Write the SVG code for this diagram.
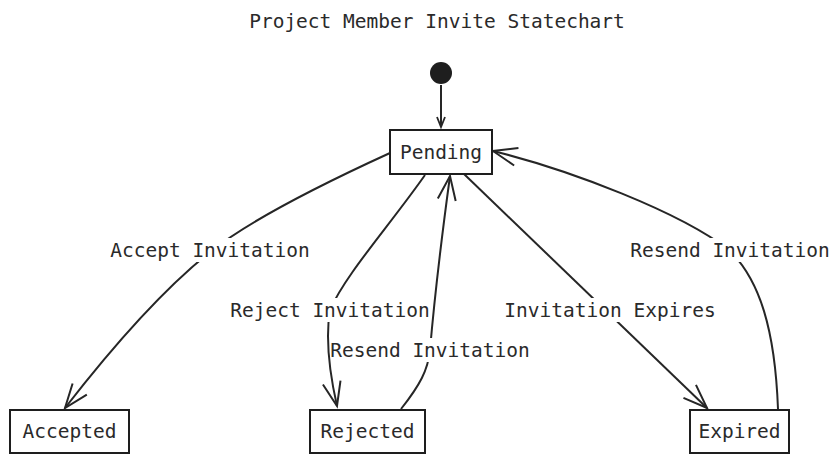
<svg xmlns="http://www.w3.org/2000/svg" width="839" height="464" viewBox="0 0 839 464">
<style>
text{font-family:"DejaVu Sans Mono","Liberation Mono",monospace;font-size:19.5px;fill:#2a2a2a;text-anchor:middle}
.box{fill:#fff;stroke:#1e1e1e;stroke-width:2}
.edge{fill:none;stroke:#262626;stroke-width:2}
.lbl{fill:#fff}
</style>
<defs>
<marker id="arr" markerUnits="userSpaceOnUse" markerWidth="30" markerHeight="24" refX="24" refY="9" orient="auto" overflow="visible">
<path d="M0,0 L24,9 L0,18" fill="none" stroke="#262626" stroke-width="2"/>
</marker>
<marker id="arrs" markerUnits="userSpaceOnUse" markerWidth="14" markerHeight="12" refX="10" refY="4" orient="auto" overflow="visible">
<path d="M0,0 L10,4 L0,8" fill="none" stroke="#262626" stroke-width="1.8"/>
</marker>
</defs>
<text x="437" y="28">Project Member Invite Statechart</text>
<g id="connectors">
<path class="edge" d="M441,85 L441,127" marker-end="url(#arrs)"/>
<path id="e-accept" class="edge" d="M390,153 C320,185 250,220 210,252 C160,292 110,350 65,408" marker-end="url(#arr)"/>
<path id="e-reject" class="edge" d="M425,175 C390,225 345,275 330,310 C325,340 330,375 337,406" marker-end="url(#arr)"/>
<path id="e-resend1" class="edge" d="M401,409 C420,385 428,370 430,350 C436,280 444,220 450,176" marker-end="url(#arr)"/>
<path id="e-expire" class="edge" d="M464,174 L707,408" marker-end="url(#arr)"/>
<path id="e-resend2" class="edge" d="M778,409 C775,330 760,280 729,250 C680,212 570,170 493,151" marker-end="url(#arr)"/>
<g id="labels">
<rect class="lbl" x="110" y="238" width="200" height="24"/>
<text x="210" y="257">Accept Invitation</text>
<rect class="lbl" x="230" y="298" width="200" height="24"/>
<text x="330" y="317">Reject Invitation</text>
<rect class="lbl" x="331" y="338" width="198" height="24"/>
<text x="430" y="357">Resend Invitation</text>
<rect class="lbl" x="504" y="298" width="212" height="24"/>
<text x="610" y="317">Invitation Expires</text>
<rect class="lbl" x="630" y="238" width="200" height="24"/>
<text x="730" y="257">Resend Invitation</text>
</g>
</g>
<g id="start"><circle cx="441" cy="73" r="11" fill="#1e1e1e"/></g>
<g id="pending"><rect class="box" x="390" y="130" width="102" height="44"/><text x="441" y="159">Pending</text></g>
<g id="accepted"><rect class="box" x="10" y="410" width="119" height="43"/><text x="69.5" y="438">Accepted</text></g>
<g id="rejected"><rect class="box" x="310" y="410" width="115" height="43"/><text x="367.5" y="438">Rejected</text></g>
<g id="expired"><rect class="box" x="690" y="410" width="99" height="43"/><text x="739.5" y="438">Expired</text></g>
</svg>
